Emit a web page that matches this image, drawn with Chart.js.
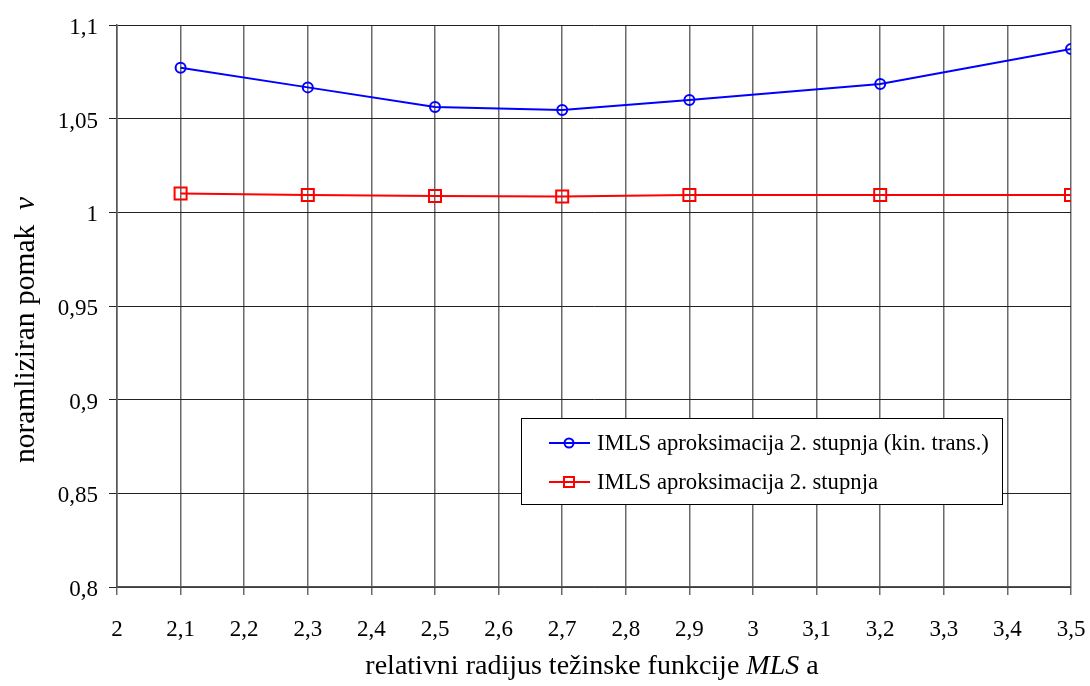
<!DOCTYPE html>
<html>
<head>
<meta charset="utf-8">
<script src="https://cdn.jsdelivr.net/npm/chart.js@4.4.0/dist/chart.umd.min.js"></script>
<style>
  html, body { margin: 0; padding: 0; background: #fff; }
  #wrap { width: 1090px; height: 686px; position: relative; }
</style>
</head>
<body>
<div id="wrap"><canvas id="c" width="1090" height="686"></canvas></div>
<script>
// data
const radius = [2.1, 2.3, 2.5, 2.7, 2.9, 3.2, 3.5];
const kinTrans = [1.0772, 1.0667, 1.0562, 1.0546, 1.0600, 1.0685, 1.0872];
const plain = [1.0101, 1.0093, 1.0087, 1.0085, 1.0092, 1.0092, 1.0092];
const seriesNames = ['IMLS aproksimacija 2. stupnja (kin. trans.)', 'IMLS aproksimacija 2. stupnja'];

const serif = '"Liberation Serif", "Times New Roman", serif';
const comma = v => String(Math.round(v * 100) / 100).replace('.', ',');

// draw a run of text pieces, some italic, centred on cx
function mixedText(ctx, parts, cx, cy, size) {
  let total = 0;
  parts.forEach(p => { ctx.font = (p[1] ? 'italic ' : '') + size + 'px ' + serif; total += ctx.measureText(p[0]).width; });
  let x = cx - total / 2;
  parts.forEach(p => {
    ctx.font = (p[1] ? 'italic ' : '') + size + 'px ' + serif;
    ctx.fillText(p[0], x, cy);
    x += ctx.measureText(p[0]).width;
  });
}

// axis titles + legend box inside the plot
const extras = {
  id: 'extras',
  afterDraw(chart) {
    const ctx = chart.ctx;
    const area = chart.chartArea;
    ctx.save();
    ctx.fillStyle = '#000';
    ctx.textBaseline = 'middle';
    ctx.textAlign = 'left';

    mixedText(ctx, [['relativni radijus težinske funkcije ', false], ['MLS', true], [' a', false]],
      (area.left + area.right) / 2 - 2, 667, 28);

    ctx.translate(26, 330);
    ctx.rotate(-Math.PI / 2);
    mixedText(ctx, [['noramliziran pomak  ', false], ['v', true]], 0, 0, 29.5);
    ctx.restore();

    // legend
    ctx.save();
    const bx = 521, by = 418, bw = 481, bh = 86;
    ctx.fillStyle = '#fff';
    ctx.fillRect(bx, by, bw, bh);
    ctx.strokeStyle = '#000';
    ctx.lineWidth = 1;
    ctx.strokeRect(bx + 0.5, by + 0.5, bw, bh);
    ctx.font = '22.7px ' + serif;
    ctx.textBaseline = 'middle';
    chart.data.datasets.forEach((ds, i) => {
      const cy = by + 25 + i * 39;
      ctx.strokeStyle = ds.borderColor;
      ctx.lineWidth = 2;
      ctx.beginPath();
      ctx.moveTo(549, cy);
      ctx.lineTo(590, cy);
      ctx.stroke();
      ctx.beginPath();
      if (ds.pointStyle === 'rect') {
        ctx.rect(564, cy - 5, 10, 10);
      } else {
        ctx.arc(569, cy, 4.5, 0, Math.PI * 2);
      }
      ctx.stroke();
      ctx.fillStyle = '#000';
      ctx.fillText(ds.label, 597, cy + 1);
    });
    ctx.restore();
  }
};

new Chart(document.getElementById('c'), {
  type: 'line',
  data: {
    datasets: [
      {
        label: seriesNames[0],
        data: radius.map((r, i) => ({ x: r, y: kinTrans[i] })),
        borderColor: '#0000ff',
        backgroundColor: 'rgba(0,0,0,0)',
        borderWidth: 2,
        pointStyle: 'circle',
        pointRadius: 5,
        pointBorderWidth: 2,
        tension: 0
      },
      {
        label: seriesNames[1],
        data: radius.map((r, i) => ({ x: r, y: plain[i] })),
        borderColor: '#ff0000',
        backgroundColor: 'rgba(0,0,0,0)',
        borderWidth: 2,
        pointStyle: 'rect',
        pointRadius: 8.5,
        pointBorderWidth: 2,
        tension: 0
      }
    ]
  },
  options: {
    responsive: false,
    animation: false,
    layout: { padding: { left: 0, right: 19, top: 25, bottom: 0 } },
    plugins: { legend: { display: false }, tooltip: { enabled: false } },
    scales: {
      x: {
        type: 'linear',
        min: 2, max: 3.5,
        afterFit: s => { s.height = 99; s.paddingRight = 0; s.paddingLeft = 0; },
        ticks: {
          stepSize: 0.1,
          callback: v => comma(v),
          color: '#000',
          font: { family: serif, size: 23 },
          padding: 21,
          maxRotation: 0,
          autoSkip: false
        },
        grid: { color: '#6a6a6a', lineWidth: 1.5, tickLength: 8 },
        border: { color: '#555', width: 1.5 }
      },
      y: {
        min: 0.8, max: 1.1,
        afterFit: s => { s.width = 117; s.paddingTop = 0; s.paddingBottom = 0; },
        ticks: {
          stepSize: 0.05,
          callback: v => comma(v),
          color: '#000',
          font: { family: serif, size: 23 },
          padding: 11,
          labelOffset: 3
        },
        grid: { color: '#222', lineWidth: 1, tickLength: 8 },
        border: { color: '#555', width: 1.5 }
      }
    }
  },
  plugins: [extras]
});
</script>
</body>
</html>
